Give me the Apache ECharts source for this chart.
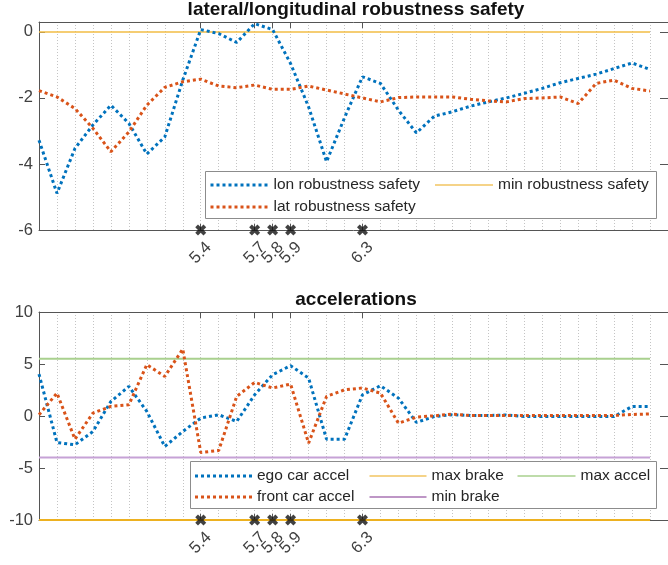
<!DOCTYPE html>
<html><head><meta charset="utf-8">
<script src="https://cdn.jsdelivr.net/npm/echarts@6/dist/echarts.min.js"></script>
<style>html,body{margin:0;padding:0;background:#fff}#c{width:668px;height:565px}</style>
</head><body><div id="c"></div>
<script>
// ---- data ----
const times = [4.5,4.6,4.7,4.8,4.9,5.0,5.1,5.2,5.3,5.4,5.5,5.6,5.7,5.8,5.9,6.0,6.1,6.2,6.3,6.4,6.5,6.6,6.7,6.8,6.9,7.0,7.1,7.2,7.3,7.4,7.5,7.6,7.7,7.8,7.9];
const lonRobustness = [-3.28,-4.89,-3.53,-2.82,-2.22,-2.77,-3.70,-3.18,-1.46,0.07,-0.05,-0.32,0.25,0.07,-0.96,-2.27,-3.93,-2.6,
  -1.36,-1.56,-2.37,-3.06,-2.55,-2.42,-2.25,-2.12,-2.0,-1.86,-1.71,-1.54,-1.41,-1.28,-1.11,-0.94,-1.14];
const latRobustness = [-1.78,-1.97,-2.32,-2.92,-3.63,-3.03,-2.22,-1.68,-1.51,-1.43,-1.64,-1.69,-1.61,-1.74,-1.74,-1.64,-1.76,-1.88,
  -2.0,-2.12,-1.99,-1.97,-1.97,-1.97,-2.04,-2.09,-2.12,-2.02,-2.0,-1.97,-2.17,-1.56,-1.46,-1.71,-1.79];
const egoAccel = [4.03,-2.55,-2.77,-1.49,1.4,2.84,0.44,-2.93,-1.49,-0.2,0.12,-0.53,2.04,3.97,4.84,3.65,-2.23,-2.23,
  2.04,2.91,1.72,-0.62,-0.05,0.12,0.05,0.05,0.1,-0.05,-0.05,-0.05,-0.05,-0.05,-0.05,0.92,0.92];
const frontAccel = [0.12,2.2,-2.23,0.28,0.92,1.08,4.93,3.81,6.44,-3.51,-3.32,1.88,3.23,2.69,3.07,-2.61,1.88,2.52,
  2.69,2.2,-0.69,-0.11,0.02,0.18,0.05,0.05,0.05,0.05,0.05,0.05,0.05,0.05,0.05,0.15,0.2];
const minRobustness = 0;
const maxBrake = -10;
const maxAccel = 5.5;
const minBrake = -4;
const eventTimes = [5.4,5.7,5.8,5.9,6.3];
const yTicksTop = [-6,-4,-2,0];
const yTicksBottom = [-10,-5,0,5,10];
const xRange = [4.5, 8];
const yRangeTop = [-6, 0.3];
const yRangeBottom = [-10, 10];

// ---- styles ----
const FONT = "'Liberation Sans', Arial, sans-serif";
const TXT = '#262626';
const AX = '#555555';
const BLUE = '#0072BD', RED = '#D95319';
const XPATH = 'path://M2.5,0 L5,2.5 L7.5,0 L10,2.5 L7.5,5 L10,7.5 L7.5,10 L5,7.5 L2.5,10 L0,7.5 L2.5,5 L0,2.5 Z';
let dots = '';
for (let k = 0; k < 10; k++) dots += 'M' + (k*6) + ',0h3v3h-3z';
const DOT_ICON = 'path://' + dots;

const rects = [
  {left:39, top:22, width:634, height:208},
  {left:39, top:312, width:634, height:208}
];
const grids = [rects[0], rects[1], rects[0], rects[1]];

function xAxesFor(g){
  return [
    {gridIndex:g, type:'value', min:xRange[0], max:xRange[1], position:'bottom',
     axisLine:{show:true, onZero:false, lineStyle:{color:AX, width:1}},
     axisTick:{show:true, inside:true, length:6, customValues:eventTimes, lineStyle:{color:AX}},
     axisLabel:{show:true, customValues:eventTimes, rotate:45, margin:23, align:'center', verticalAlign:'middle',
       color:'#404040', fontSize:16.5, fontFamily:FONT, formatter:v=>v.toFixed(1)},
     splitLine:{show:false}},
    {gridIndex:g, type:'value', min:xRange[0], max:xRange[1], position:'top',
     axisLine:{show:true, onZero:false, lineStyle:{color:AX, width:1}},
     axisTick:{show:true, inside:true, length:6, customValues:eventTimes, lineStyle:{color:AX}},
     axisLabel:{show:false},
     splitLine:{show:false}}
  ];
}
function gridLineAxis(g){
  return {gridIndex:g, type:'value', min:xRange[0], max:xRange[1], interval:0.1, position:'bottom',
    axisLine:{show:false}, axisTick:{show:false}, axisLabel:{show:false},
    splitLine:{show:true, lineStyle:{color:'#c4c4c4', type:[1,2], width:1}}};
}
function hiddenY(g){
  return {gridIndex:g, type:'value', min:0, max:1, show:false, splitLine:{show:false}};
}
function yAxesFor(g, range, ticks, interval){
  return [
    {gridIndex:g, type:'value', min:range[0], max:range[1], interval:interval, position:'left',
     axisLine:{show:true, onZero:false, lineStyle:{color:AX, width:1}},
     axisTick:{show:true, inside:true, length:6, customValues:ticks, lineStyle:{color:AX}},
     axisLabel:{show:true, customValues:ticks, margin:6, color:'#404040', fontSize:16.5, fontFamily:FONT},
     splitLine:{show:false}},
    {gridIndex:g, type:'value', min:range[0], max:range[1], interval:interval, position:'right',
     axisLine:{show:true, onZero:false, lineStyle:{color:AX, width:1}},
     axisTick:{show:true, inside:true, length:8, customValues:ticks, lineStyle:{color:AX}},
     axisLabel:{show:false},
     splitLine:{show:false}}
  ];
}

function dotted(name, vals, color, xi, yi){
  return {name, type:'line', xAxisIndex:xi, yAxisIndex:yi, data:times.map((t,i)=>[t, vals[i]]),
    showSymbol:false, symbol:'none', z:3,
    lineStyle:{type:'dotted', width:3, color}, itemStyle:{color}};
}
function hline(name, v, color, width, xi, yi){
  return {name, type:'line', xAxisIndex:xi, yAxisIndex:yi,
    data:[[times[0], v],[times[times.length-1], v]],
    showSymbol:false, symbol:'none', z:2, lineStyle:{type:'solid', width, color}, itemStyle:{color}};
}
function markers(y, xi, yi){
  return {type:'scatter', xAxisIndex:xi, yAxisIndex:yi, data:eventTimes.map(t=>[t, y]),
    symbol:XPATH, symbolSize:11, clip:false, z:4, itemStyle:{color:'#111'}, silent:true};
}

function leg(name, left, rowY, w, icon, h, color){
  const d = {name, icon};
  if (color) d.itemStyle = {color};
  return {data:[d], left, top:rowY - 9, padding:0, itemWidth:w, itemHeight:h, itemGap:0, z:8,
    selectedMode:false, textStyle:{fontSize:15.5, lineHeight:18, color:TXT, fontFamily:FONT}};
}

const option = {
  animation:false,
  backgroundColor:'#fff',
  title:[
    {text:'lateral/longitudinal robustness safety', left:356, top:0, textAlign:'center', padding:0,
     textStyle:{fontSize:19, fontWeight:'bold', color:'#111', fontFamily:FONT}},
    {text:'accelerations', left:356, top:290, textAlign:'center', padding:0,
     textStyle:{fontSize:19, fontWeight:'bold', color:'#111', fontFamily:FONT}}
  ],
  grid:grids,
  xAxis:[...xAxesFor(0), ...xAxesFor(1), gridLineAxis(2), gridLineAxis(3)],
  yAxis:[...yAxesFor(0, yRangeTop, yTicksTop, 2), ...yAxesFor(1, yRangeBottom, yTicksBottom, 5), hiddenY(2), hiddenY(3)],
  graphic:[
    {type:'rect', shape:{x:205.5, y:171.5, width:451, height:47}, style:{fill:'#fff', stroke:'#8c8c8c', lineWidth:1}, z:6},
    {type:'rect', shape:{x:190.5, y:461.5, width:466, height:47}, style:{fill:'#fff', stroke:'#8c8c8c', lineWidth:1}, z:6}
  ],
  legend:[
    leg('lon robustness safety', 210.5, 185, 59, DOT_ICON, 3),
    leg('lat robustness safety', 210.5, 207, 59, DOT_ICON, 3),
    leg('min robustness safety', 435, 185, 58, 'rect', 1.5, '#f2c461'),
    leg('ego car accel', 195, 476, 57, DOT_ICON, 3),
    leg('front car accel', 195, 497, 57, DOT_ICON, 3),
    leg('max brake', 369.5, 476, 57, 'rect', 1.5, '#f2c461'),
    leg('min brake', 369.5, 497, 57, 'rect', 1.2, '#7E2F8E'),
    leg('max accel', 517.5, 476, 58, 'rect', 1.5, '#a9d08e')
  ],
  series:[
    dotted('lon robustness safety', lonRobustness, BLUE, 0, 0),
    dotted('lat robustness safety', latRobustness, RED, 0, 0),
    hline('min robustness safety', minRobustness, '#f2bd45', 1.5, 0, 0),
    markers(yRangeTop[0], 0, 0),
    dotted('ego car accel', egoAccel, BLUE, 2, 2),
    dotted('front car accel', frontAccel, RED, 2, 2),
    hline('max brake', maxBrake, '#EDB120', 2, 2, 2),
    hline('max accel', maxAccel, '#a9d08e', 2, 2, 2),
    hline('min brake', minBrake, '#c6a2d6', 2, 2, 2),
    markers(yRangeBottom[0], 2, 2)
  ]
};
const chart = echarts.init(document.getElementById('c'), null, {renderer:'canvas'});
chart.setOption(option);
</script>
</body></html>
